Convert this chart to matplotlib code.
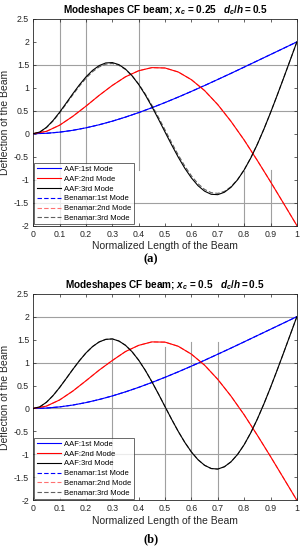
import numpy as np
import matplotlib
matplotlib.use('Agg')
import matplotlib.pyplot as plt

plt.rcParams['font.family'] = ['Liberation Sans', 'DejaVu Sans']
plt.rcParams['axes.unicode_minus'] = False
plt.rcParams['mathtext.fontset'] = 'custom'
plt.rcParams['mathtext.rm'] = 'Liberation Sans:bold'
plt.rcParams['mathtext.it'] = 'Liberation Sans:italic:bold'
plt.rcParams['mathtext.bf'] = 'Liberation Sans:bold'

# normalized beam length (coarse for modes 1-2, fine for mode 3)
x = [0.0, 0.05, 0.1, 0.15, 0.2, 0.25, 0.3, 0.35, 0.4, 0.45, 0.5,
     0.55, 0.6, 0.65, 0.7, 0.75, 0.8, 0.85, 0.9, 0.95, 1.0]
x_fine = [0.0, 0.025, 0.05, 0.075, 0.1, 0.125, 0.15, 0.175, 0.2, 0.225, 0.25,
          0.275, 0.3, 0.325, 0.35, 0.375, 0.4, 0.425, 0.45, 0.475, 0.5,
          0.525, 0.55, 0.575, 0.6, 0.625, 0.65, 0.675, 0.7, 0.725, 0.75,
          0.775, 0.8, 0.825, 0.85, 0.875, 0.9, 0.925, 0.95, 0.975, 1.0]

# (a) xc = 0.25
aaf1_a = [0, 0.009, 0.034, 0.074, 0.128, 0.195, 0.273, 0.362, 0.460, 0.566, 0.679,
          0.798, 0.922, 1.050, 1.182, 1.315, 1.451, 1.588, 1.725, 1.862, 2.0]
aaf2_a = [0, 0.051, 0.185, 0.378, 0.600, 0.835, 1.052, 1.240, 1.372, 1.440, 1.432,
          1.345, 1.177, 0.940, 0.634, 0.270, -0.137, -0.583, -1.046, -1.522, -2.0]
aaf3_a = [0, 0.037, 0.137, 0.286, 0.467, 0.667, 0.870, 1.063, 1.237, 1.380, 1.484,
          1.542, 1.550, 1.505, 1.408, 1.262, 1.073, 0.846, 0.592, 0.318, 0.036,
          -0.243, -0.510, -0.753, -0.963, -1.132, -1.252, -1.320, -1.328, -1.276, -1.168,
          -1.004, -0.790, -0.531, -0.232, 0.100, 0.457, 0.832, 1.217, 1.608, 2.0]
ben1_a = aaf1_a
ben2_a = aaf2_a
ben3_a = [0, 0.035, 0.132, 0.276, 0.452, 0.648, 0.847, 1.037, 1.208, 1.350, 1.455,
          1.515, 1.530, 1.490, 1.400, 1.262, 1.082, 0.866, 0.622, 0.358, 0.082,
          -0.196, -0.462, -0.706, -0.918, -1.090, -1.214, -1.284, -1.300, -1.258, -1.156,
          -0.998, -0.787, -0.528, -0.229, 0.102, 0.459, 0.833, 1.217, 1.608, 2.0]

# (b) xc = 0.5
aaf1_b = [0, 0.009, 0.034, 0.074, 0.128, 0.195, 0.273, 0.362, 0.460, 0.566, 0.679,
          0.798, 0.922, 1.050, 1.182, 1.315, 1.451, 1.588, 1.725, 1.862, 2.0]
aaf2_b = [0, 0.051, 0.185, 0.378, 0.603, 0.835, 1.045, 1.240, 1.375, 1.450, 1.445,
          1.355, 1.183, 0.943, 0.634, 0.270, -0.137, -0.583, -1.046, -1.522, -2.0]
aaf3_b = [0, 0.036, 0.134, 0.279, 0.456, 0.651, 0.850, 1.039, 1.209, 1.348, 1.449,
          1.505, 1.515, 1.469, 1.376, 1.235, 1.052, 0.832, 0.583, 0.316, 0.039,
          -0.236, -0.499, -0.739, -0.948, -1.116, -1.238, -1.308, -1.320, -1.270, -1.163,
          -1.002, -0.790, -0.531, -0.232, 0.100, 0.457, 0.832, 1.217, 1.608, 2.0]
ben1_b = aaf1_b
ben2_b = aaf2_b
ben3_b = aaf3_b

titles = [r'Modeshapes CF beam; $x_c$ = 0.25   $\mathit{d_c/h = 0.5}$',
          r'Modeshapes CF beam; $x_c$ = 0.5   $\mathit{d_c/h = 0.5}$']
panel_labels = ['(a)', '(b)']
labels = ['AAF:1st Mode', 'AAF:2nd Mode', 'AAF:3rd Mode',
          'Benamar:1st Mode', 'Benamar:2nd Mode', 'Benamar:3rd Mode']

# partial grid lines seen in the figure: (pos, start, end)
vgrid_a = [(0.1, -2, 2.5), (0.2, -2, 2.5), (0.4, -0.8, 2.5), (0.8, -2, -0.82), (0.9, -2, -0.8)]
hgrid_a = [(1.5, 0, 1), (0.5, 0, 1), (-1.5, 0, 1)]
vgrid_b = [(0.3, -2, 1.5), (0.5, -2, 1.33), (0.6, -2, 1.45), (0.7, -2, 1.45)]
hgrid_b = [(2.0, 0, 1), (1.0, 0, 1), (0.0, 0, 1), (-1.0, 0, 1)]

fig = plt.figure(figsize=(3.02, 5.5), dpi=100)
ax_a = fig.add_axes([0.110, 0.590, 0.873, 0.3755])
ax_b = fig.add_axes([0.110, 0.0904, 0.873, 0.3756])

panels = [
    (ax_a, [aaf1_a, aaf2_a, aaf3_a, ben1_a, ben2_a, ben3_a], vgrid_a, hgrid_a),
    (ax_b, [aaf1_b, aaf2_b, aaf3_b, ben1_b, ben2_b, ben3_b], vgrid_b, hgrid_b),
]

colors = ['#0000ff', '#ff0000', '#000000', '#0000ff', '#ff7070', '#606060']
styles = ['-', '-', '-', '--', '--', '--']
xs = [x, x, x_fine, x, x, x_fine]

for i, (ax, series, vg, hg) in enumerate(panels):
    for xv, y0, y1 in vg:
        ax.plot([xv, xv], [y0, y1], color='#a0a0a0', lw=0.8, zorder=1)
    for yv, x0, x1 in hg:
        ax.plot([x0, x1], [yv, yv], color='#a0a0a0', lw=0.8, zorder=1)
    for xx, s, c, ls, lab in zip(xs, series, colors, styles, labels):
        if ls == '--':
            ax.plot(xx, s, color=c, ls=ls, lw=0.8, label=lab, zorder=2, dashes=(4, 2))
        else:
            ax.plot(xx, s, color=c, ls=ls, lw=0.8, label=lab, zorder=3)
    ax.set_xlim(0, 1)
    ax.set_ylim(-2, 2.5)
    ax.set_xticks(np.arange(0, 1.01, 0.1))
    ax.set_xticklabels(['0', '0.1', '0.2', '0.3', '0.4', '0.5', '0.6', '0.7', '0.8', '0.9', '1'])
    ax.set_yticks(np.arange(-2, 2.51, 0.5))
    ax.set_yticklabels(['-2', '-1.5', '-1', '-0.5', '0', '0.5', '1', '1.5', '2', '2.5'])
    ax.tick_params(direction='in', length=2.5, width=0.5, labelsize=6.3,
                   top=True, right=True, pad=3, colors='#262626')
    for sp in ax.spines.values():
        sp.set_linewidth(0.6)
        sp.set_color('#262626')
    ax.set_title(titles[i], fontsize=7.2, fontweight='bold', pad=4)
    ax.set_xlabel('Normalized Length of the Beam', fontsize=7.5, labelpad=2, color='#262626')
    ax.set_ylabel('Deflection of the Beam', fontsize=7.5, labelpad=3, color='#262626')
    leg = ax.legend(loc='lower left', fontsize=5.5, frameon=True, fancybox=False,
                    borderaxespad=0.15, handlelength=3.2, handletextpad=0.4,
                    labelspacing=0.32, borderpad=0.3)
    leg.get_frame().set_edgecolor('#262626')
    leg.get_frame().set_linewidth(0.6)
    leg.set_zorder(5)

fig.text(0.5, 1 - 259 / 550, panel_labels[0], ha='center', va='center',
         fontsize=9, fontweight='bold', family='Liberation Serif')
fig.text(0.5, 1 - 539 / 550, panel_labels[1], ha='center', va='center',
         fontsize=9, fontweight='bold', family='Liberation Serif')

fig.savefig('out.png', dpi=100)
